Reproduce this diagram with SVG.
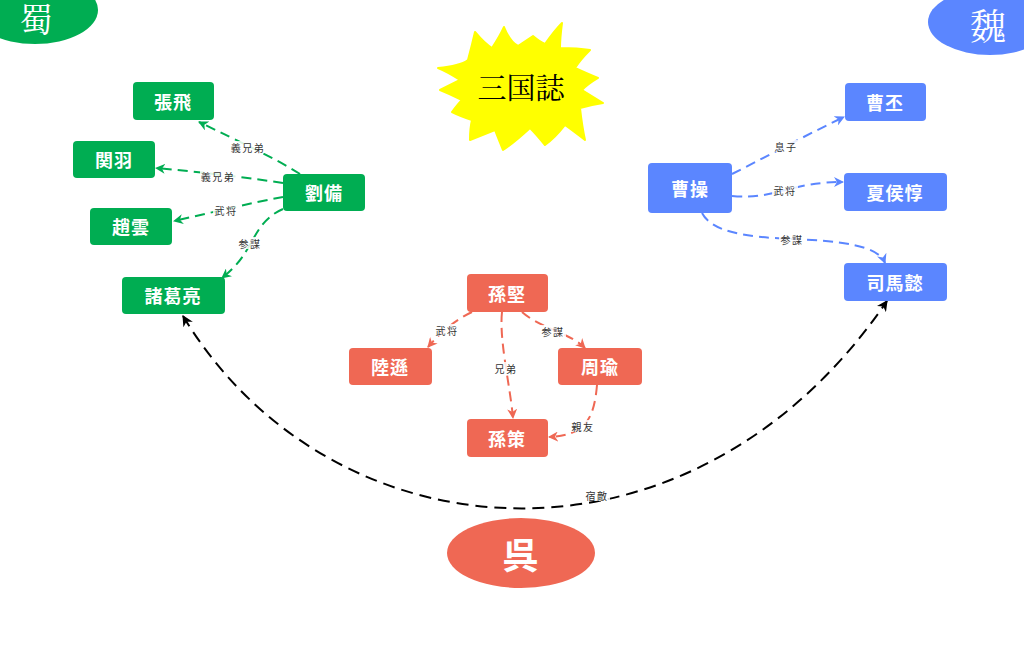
<svg xmlns="http://www.w3.org/2000/svg" width="1024" height="660" viewBox="0 0 1024 660">
<style>
.nt{font-family:"Noto Sans CJK JP","Noto Sans CJK SC",sans-serif;font-size:18px;font-weight:bold;fill:#fff;text-anchor:middle;dominant-baseline:central;letter-spacing:1px}
.lb{font-family:"Noto Sans CJK JP","Noto Sans CJK SC",sans-serif;font-size:10px;fill:#333;text-anchor:middle;dominant-baseline:central;letter-spacing:1.5px}
.lbg{fill:#fff;opacity:0.85}
.g{fill:#00ad52}
.b{fill:#5b86ff}
.r{fill:#ef6854}
.eg{fill:none;stroke:#00ad52;stroke-width:2;stroke-dasharray:10,6;marker-end:url(#ag)}
.eb{fill:none;stroke:#5b86ff;stroke-width:2;stroke-dasharray:10,6;marker-end:url(#ab)}
.er{fill:none;stroke:#ef6854;stroke-width:2;stroke-dasharray:10,6;marker-end:url(#ar)}
.ek{fill:none;stroke:#000;stroke-width:2;stroke-dasharray:12,7;marker-end:url(#ak);marker-start:url(#ak)}
.big{font-family:"Noto Serif CJK JP","Noto Sans CJK JP",serif;fill:#fff;text-anchor:middle;dominant-baseline:central}
</style>
<defs>
<marker id="ag" viewBox="0 0 10 10" refX="9" refY="5" markerWidth="10" markerHeight="10" markerUnits="userSpaceOnUse" orient="auto"><path d="M0,0 L10,5 L0,10 L3,5 z" fill="#00ad52"/></marker>
<marker id="ab" viewBox="0 0 10 10" refX="9" refY="5" markerWidth="10" markerHeight="10" markerUnits="userSpaceOnUse" orient="auto"><path d="M0,0 L10,5 L0,10 L3,5 z" fill="#5b86ff"/></marker>
<marker id="ar" viewBox="0 0 10 10" refX="9" refY="5" markerWidth="10" markerHeight="10" markerUnits="userSpaceOnUse" orient="auto"><path d="M0,0 L10,5 L0,10 L3,5 z" fill="#ef6854"/></marker>
<marker id="ak" viewBox="0 0 10 10" refX="9" refY="5" markerWidth="11" markerHeight="11" markerUnits="userSpaceOnUse" orient="auto-start-reverse"><path d="M0,0 L10,5 L0,10 L3,5 z" fill="#000"/></marker>
</defs>
<rect width="1024" height="660" fill="#fff"/>

<g id="title">
<path d="M438,68 Q460,66 468,60 Q472,45 475,32 Q485,44 492,48 Q500,36 504,27 Q510,42 518,46 Q527,40 533,36 Q540,42 545,44 Q555,30 562,23 Q560,38 560,48 Q578,48 590,50 Q580,60 575,68 Q588,74 598,78 Q588,84 582,90 Q595,98 603,103 Q590,105 580,108 Q582,126 585,140 Q572,130 565,125 Q555,138 545,145 Q536,134 530,128 Q515,142 503,150 Q498,138 495,130 Q480,136 470,140 Q470,128 472,120 Q460,116 452,112 Q458,104 462,100 Q450,94 440,90 Q452,84 460,80 Q448,72 438,68 Z" fill="#ffff00" stroke="#ffff00" stroke-width="2" stroke-linejoin="round"/>
<text x="521" y="86" font-family="'Noto Serif CJK JP','Noto Sans CJK JP',serif" font-size="29" fill="#000" text-anchor="middle" dominant-baseline="central">三国誌</text>
</g>

<g id="shu"><ellipse cx="35" cy="10" rx="63" ry="34" class="g"/><text x="36" y="17" class="big" font-size="33">蜀</text></g>
<g id="wei"><ellipse cx="990" cy="22" rx="62" ry="33" class="b"/><text x="988" y="24" class="big" font-size="36">魏</text></g>
<g id="wu"><ellipse cx="521" cy="553" rx="74" ry="35" class="r"/><text x="521" y="553" class="nt" style="font-size:36px">呉</text></g>

<g id="connectors">
<path class="eg" d="M300,174 C275,158 240,142 199,122"/>
<path class="eg" d="M283,183 C250,178 200,172 156,168"/>
<path class="eg" d="M283,197 C250,203 210,213 174,221"/>
<path class="eg" d="M283,209 C262,218 256,235 248,248 C240,262 232,270 222,278"/>
<path class="eb" d="M732,174 C760,160 810,133 844,117"/>
<path class="eb" d="M732,196 C775,200 790,182 843,182"/>
<path class="eb" d="M702,213 C712,232 745,237 792,239 C840,241 878,245 885,263"/>
<path class="er" d="M472,312 C455,320 440,333 428,347"/>
<path class="er" d="M502,312 C499,340 510,385 513,418"/>
<path class="er" d="M522,312 C540,328 570,333 585,348"/>
<path class="er" d="M597,385 C594,420 585,435 549,437"/>
<path class="ek" d="M183,316 C330,560 690,590 887,301"/>
<g id="labels">
<rect class="lbg" x="230" y="141" width="36" height="12"/><text class="lb" x="248" y="147">義兄弟</text>
<rect class="lbg" x="200" y="170" width="36" height="12"/><text class="lb" x="218" y="176">義兄弟</text>
<rect class="lbg" x="213" y="204" width="26" height="12"/><text class="lb" x="226" y="210">武将</text>
<rect class="lbg" x="237" y="237" width="26" height="12"/><text class="lb" x="250" y="243">参謀</text>
<rect class="lbg" x="773" y="140" width="26" height="12"/><text class="lb" x="786" y="146">息子</text>
<rect class="lbg" x="772" y="184" width="26" height="12"/><text class="lb" x="785" y="190">武将</text>
<rect class="lbg" x="779" y="233" width="26" height="12"/><text class="lb" x="792" y="239">参謀</text>
<rect class="lbg" x="434" y="324" width="26" height="12"/><text class="lb" x="447" y="330">武将</text>
<rect class="lbg" x="493" y="362" width="26" height="12"/><text class="lb" x="506" y="368">兄弟</text>
<rect class="lbg" x="540" y="325" width="26" height="12"/><text class="lb" x="553" y="331">参謀</text>
<rect class="lbg" x="570" y="420" width="26" height="12"/><text class="lb" x="583" y="426">親友</text>
<rect class="lbg" x="584" y="489" width="26" height="12"/><text class="lb" x="597" y="495">宿敵</text>
</g>
</g>

<g id="zhangfei"><rect x="133" y="82" width="81" height="38" rx="4" class="g"/><text class="nt" x="173" y="101">張飛</text></g>
<g id="guanyu"><rect x="73" y="141" width="82" height="37" rx="4" class="g"/><text class="nt" x="114" y="159">関羽</text></g>
<g id="liubei"><rect x="283" y="174" width="82" height="37" rx="4" class="g"/><text class="nt" x="324" y="192">劉備</text></g>
<g id="zhaoyun"><rect x="90" y="208" width="82" height="37" rx="4" class="g"/><text class="nt" x="131" y="226">趙雲</text></g>
<g id="zhugeliang"><rect x="122" y="277" width="103" height="37" rx="4" class="g"/><text class="nt" x="173" y="295">諸葛亮</text></g>

<g id="caopi"><rect x="845" y="83" width="81" height="38" rx="4" class="b"/><text class="nt" x="885" y="102">曹丕</text></g>
<g id="caocao"><rect x="648" y="163" width="84" height="50" rx="4" class="b"/><text class="nt" x="690" y="188">曹操</text></g>
<g id="xiahoudun"><rect x="844" y="173" width="103" height="38" rx="4" class="b"/><text class="nt" x="895" y="192">夏侯惇</text></g>
<g id="simayi"><rect x="844" y="263" width="103" height="38" rx="4" class="b"/><text class="nt" x="895" y="282">司馬懿</text></g>

<g id="sunjian"><rect x="467" y="274" width="81" height="38" rx="4" class="r"/><text class="nt" x="507" y="293">孫堅</text></g>
<g id="luxun"><rect x="349" y="348" width="83" height="37" rx="4" class="r"/><text class="nt" x="390" y="366">陸遜</text></g>
<g id="zhouyu"><rect x="558" y="348" width="84" height="37" rx="4" class="r"/><text class="nt" x="600" y="366">周瑜</text></g>
<g id="sunce"><rect x="467" y="419" width="81" height="38" rx="4" class="r"/><text class="nt" x="507" y="438">孫策</text></g>
</svg>
